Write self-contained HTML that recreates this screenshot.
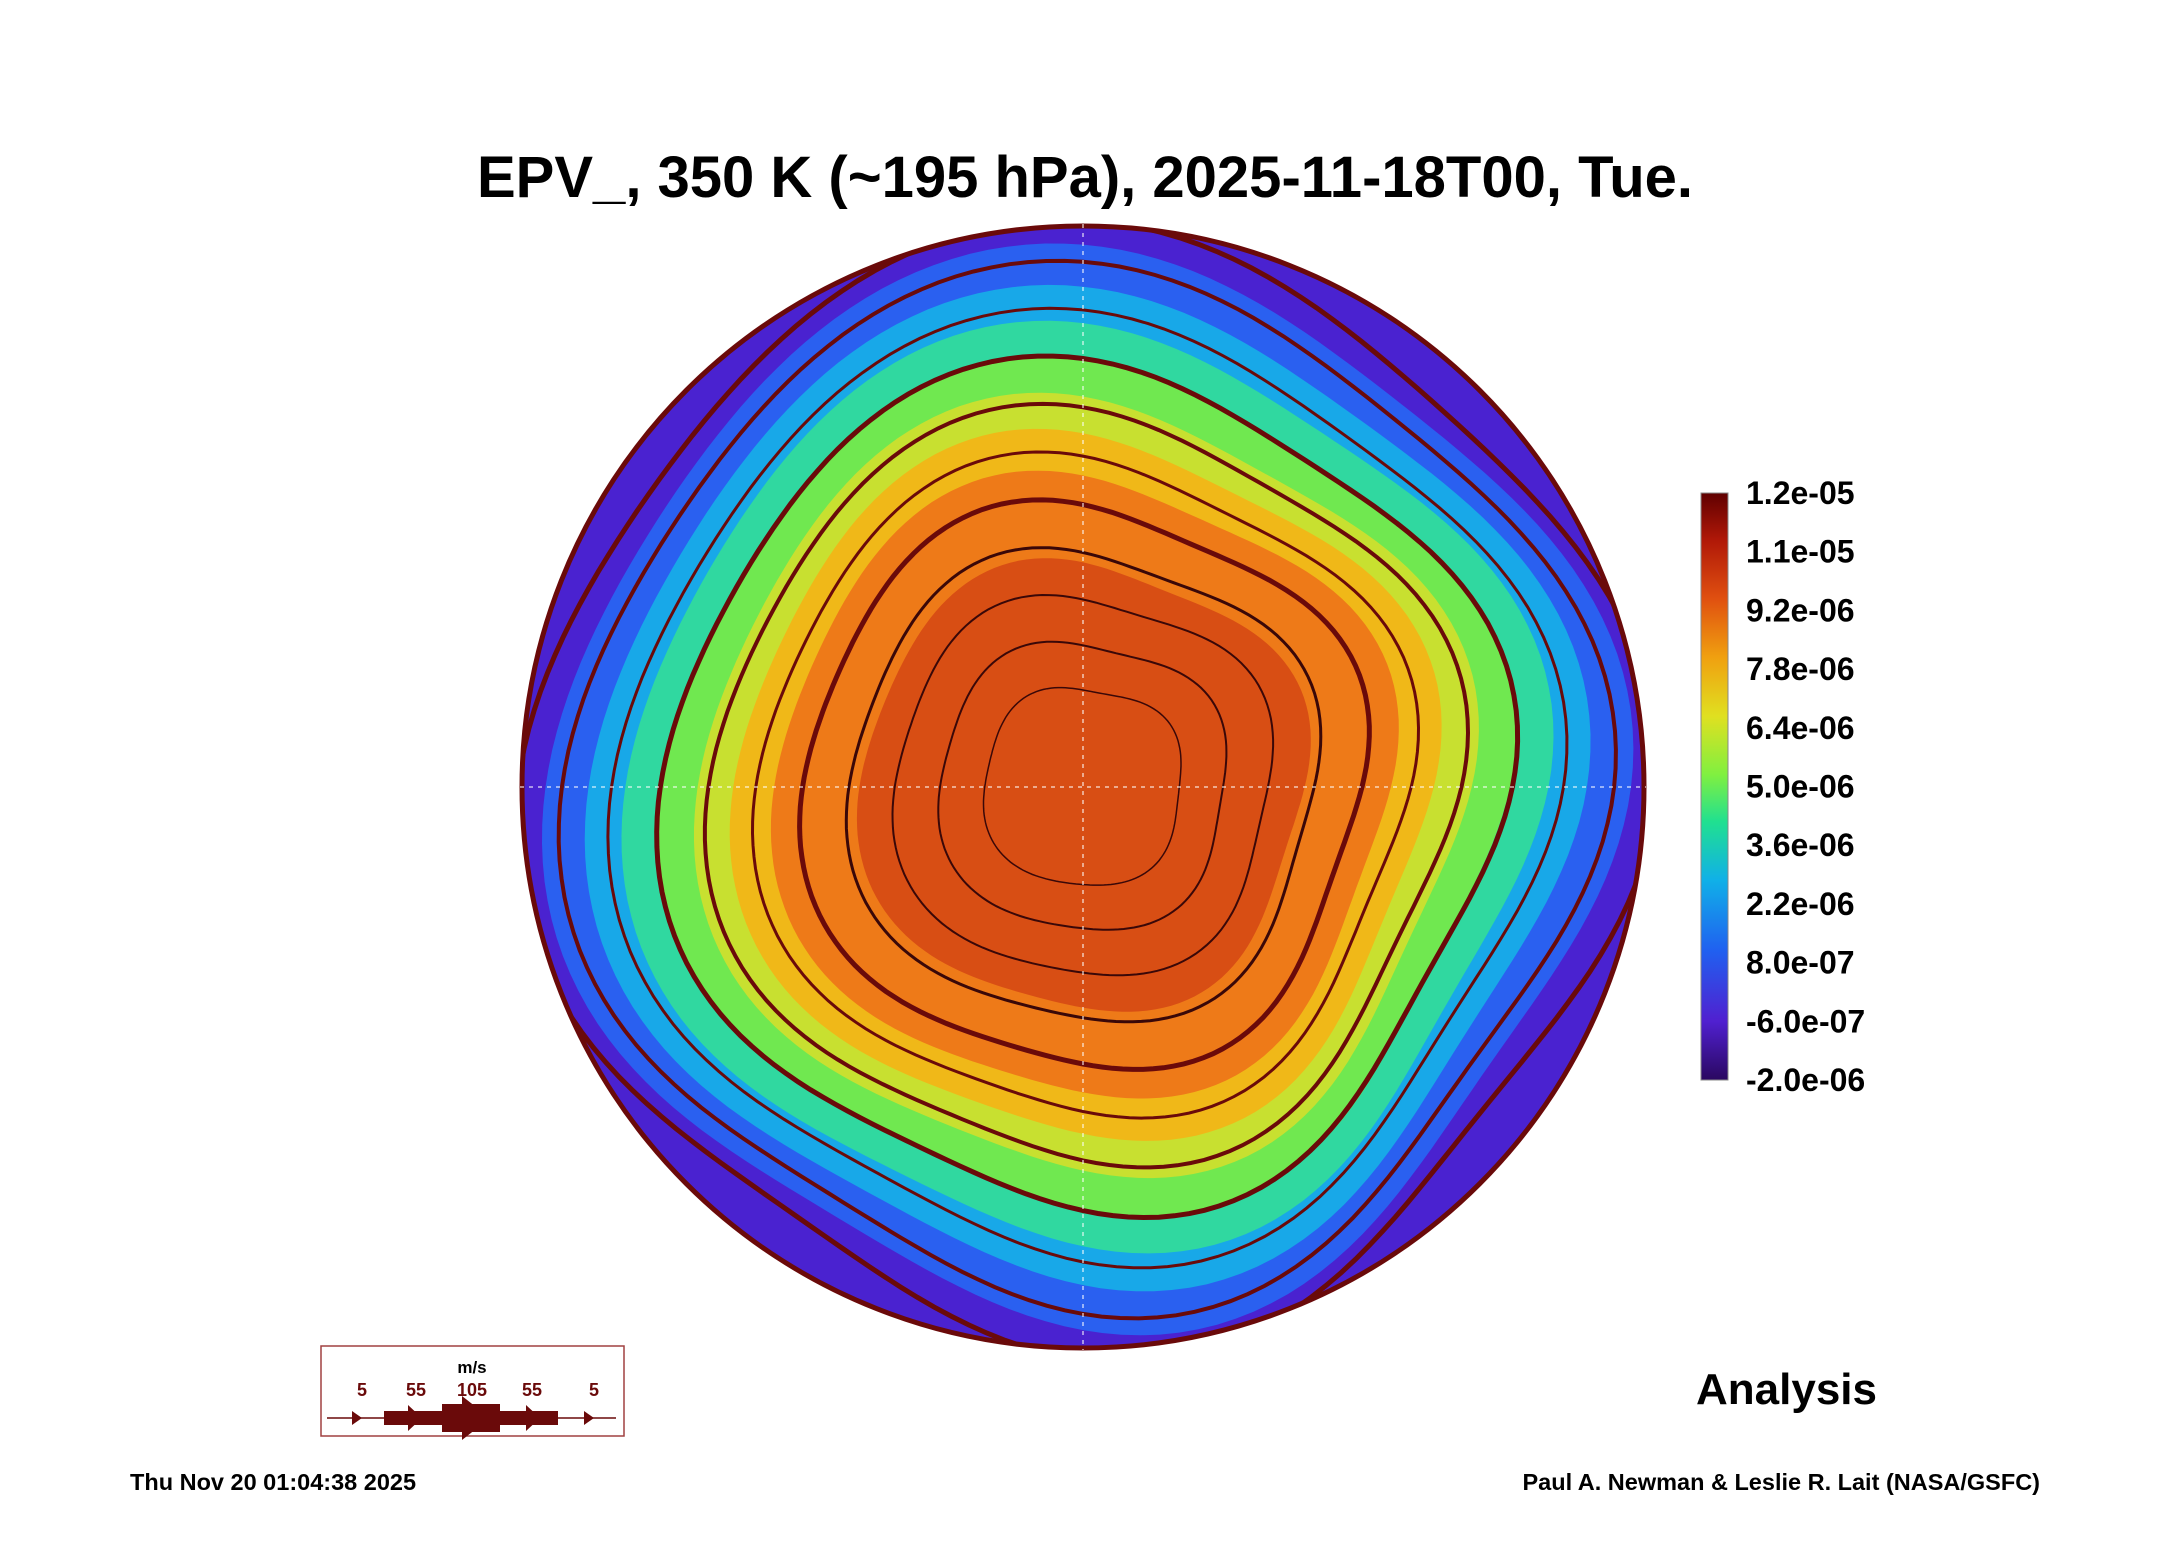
<!DOCTYPE html>
<html><head><meta charset="utf-8"><style>
body{margin:0;background:#fff;}
svg{display:block;font-family:"Liberation Sans",sans-serif;}
</style></head><body>
<svg id="c" width="2165" height="1561" viewBox="0 0 2165 1561">
<defs>
<clipPath id="disk"><circle cx="1083" cy="787" r="563"/></clipPath>
<linearGradient id="cbg" x1="0" y1="1" x2="0" y2="0">
<stop offset="0" stop-color="#2a0860"/><stop offset="0.1" stop-color="#5020d0"/><stop offset="0.22" stop-color="#2060f0"/>
<stop offset="0.34" stop-color="#10b0e8"/><stop offset="0.44" stop-color="#20e090"/><stop offset="0.52" stop-color="#80f040"/>
<stop offset="0.62" stop-color="#e0e020"/><stop offset="0.72" stop-color="#f0a010"/><stop offset="0.82" stop-color="#e05010"/>
<stop offset="0.92" stop-color="#b01808"/><stop offset="1" stop-color="#600000"/></linearGradient>
</defs>
<text x="1085" y="197" text-anchor="middle" font-size="58" font-weight="bold">EPV_, 350 K (~195 hPa), 2025-11-18T00, Tue.</text>
<g id="field" clip-path="url(#disk)"></g>
<g id="stream" clip-path="url(#disk)"></g>
<circle cx="1083" cy="787" r="561" fill="none" stroke="#6a0a0a" stroke-width="5"/>
<line x1="1083" y1="224" x2="1083" y2="1350" stroke="#fff" stroke-width="1.5" stroke-dasharray="4,5" opacity="0.7"/>
<line x1="520" y1="787" x2="1646" y2="787" stroke="#fff" stroke-width="1.5" stroke-dasharray="4,5" opacity="0.7"/>
<rect x="1701" y="493" width="27" height="587" fill="url(#cbg)" stroke="#888" stroke-width="1"/>
<g id="cbl"></g>
<text x="1696" y="1404" font-size="44" font-weight="bold">Analysis</text>
<g>
<rect x="321" y="1346" width="303" height="90" fill="none" stroke="#a04040" stroke-width="1.5"/>
<text x="472" y="1373" text-anchor="middle" font-size="17" font-weight="bold">m/s</text>
<g font-size="18" font-weight="bold" fill="#6a0a0a" text-anchor="middle">
<text x="362" y="1396">5</text><text x="416" y="1396">55</text><text x="472" y="1396">105</text><text x="532" y="1396">55</text><text x="594" y="1396">5</text></g>
<line x1="327" y1="1418" x2="616" y2="1418" stroke="#6a0a0a" stroke-width="1.5"/>
<rect x="384" y="1411" width="174" height="14" fill="#6a0a0a"/>
<rect x="442" y="1404" width="58" height="28" fill="#6a0a0a"/>
<polygon points="352,1411 362,1418 352,1425" fill="#6a0a0a"/>
<polygon points="408,1405 422,1418 408,1431" fill="#6a0a0a"/>
<polygon points="462,1396 490,1418 462,1440" fill="#6a0a0a"/>
<polygon points="526,1405 540,1418 526,1431" fill="#6a0a0a"/>
<polygon points="584,1411 594,1418 584,1425" fill="#6a0a0a"/>
</g>
<text x="130" y="1490" font-size="23.5" font-weight="bold">Thu Nov 20 01:04:38 2025</text>
<text x="2040" y="1490" text-anchor="end" font-size="23.5" font-weight="bold">Paul A. Newman &amp; Leslie R. Lait (NASA/GSFC)</text>
</svg>
<script>
const tickLabels=["1.2e-05","1.1e-05","9.2e-06","7.8e-06","6.4e-06","5.0e-06","3.6e-06","2.2e-06","8.0e-07","-6.0e-07","-2.0e-06"];
const levelRadii=[1.0,0.93,0.86,0.8,0.74,0.68,0.62,0.55,0.4];
const levelColors=["#4a22d0","#2a60f0","#18a8e8","#30d8a0","#70e850","#c8e030","#f0b818","#ee7a18","#d84e14"];
const streamRadii=[0.97,0.9,0.82,0.74,0.66,0.58,0.5,0.42,0.34,0.26,0.18];
const streamWidths=[5,4,3,5,4,3,5,3,2,2,1.5];
const cx=1083,cy=787,R=563,NS="http://www.w3.org/2000/svg";
const cbl=document.getElementById('cbl');
tickLabels.forEach((t,i)=>{const e=document.createElementNS(NS,'text');


e.setAttribute('x',1746);e.setAttribute('y',493+i*587/(tickLabels.length-1)+11);
e.setAttribute('font-size','32');e.setAttribute('font-weight','bold');e.textContent=t;cbl.appendChild(e);});
function wavy(r0,amp,k,ph){let p="";for(let i=0;i<=180;i++){const a=i/180*2*Math.PI;
const r=R*r0*(1+amp*Math.cos(k*a+ph)+amp*0.2*Math.sin((k+1)*a+ph*2));
p+=(i?"L":"M")+(cx+r*Math.cos(a)).toFixed(1)+","+(cy+r*Math.sin(a)).toFixed(1);}return p+"Z";}
const f=document.getElementById('field');
levelRadii.forEach((r,i)=>{const e=document.createElementNS(NS,'path');


e.setAttribute('d',i==0?wavy(1.1,0,4,0):wavy(r,0.05,4,0.6+i*0.15));e.setAttribute('fill',levelColors[i]);f.appendChild(e);});
const s=document.getElementById('stream');
streamRadii.forEach((r,i)=>{const e=document.createElementNS(NS,'path');


e.setAttribute('d',wavy(r,0.05,4,0.5+i*0.2));e.setAttribute('fill','none');
e.setAttribute('stroke',i>6?'#3a0808':'#6a0a0a');e.setAttribute('stroke-width',streamWidths[i]);s.appendChild(e);});
</script>
</body></html>
